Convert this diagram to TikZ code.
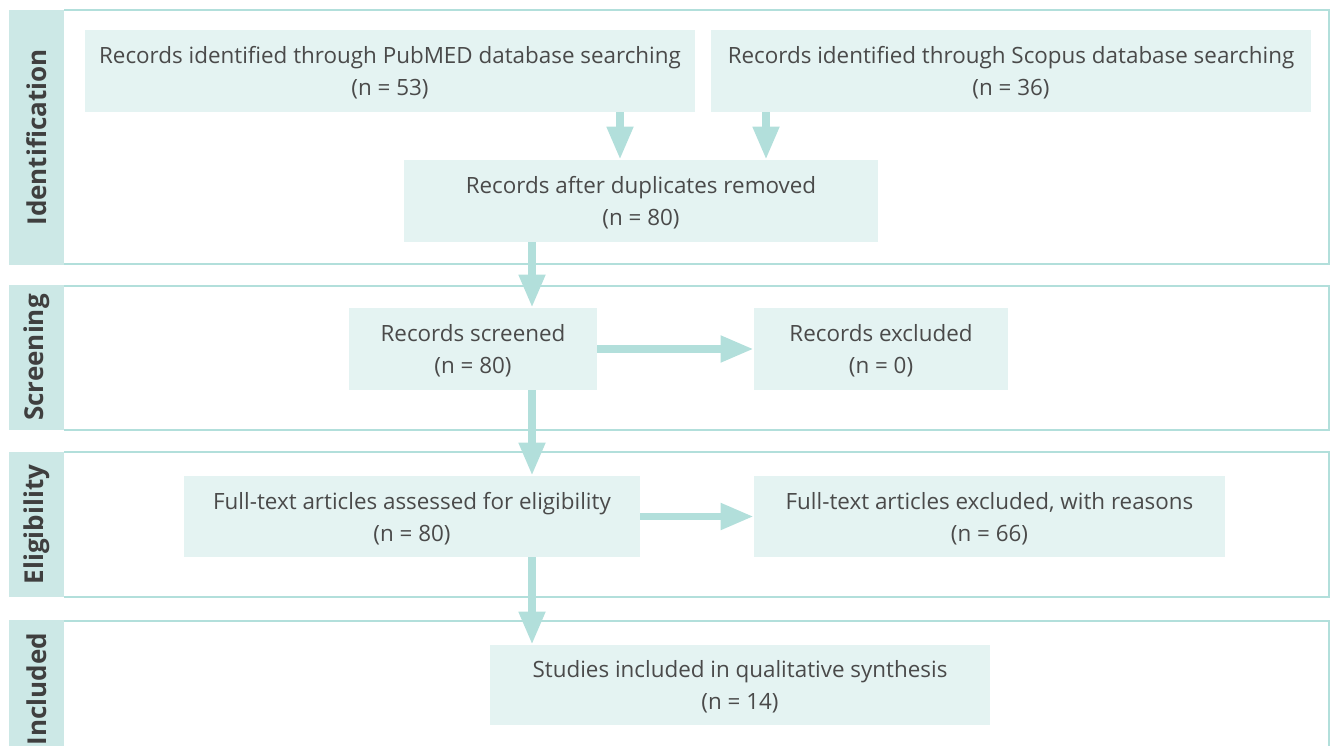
\documentclass[tikz,border=0pt]{standalone}
\usepackage{fontspec}
\setmainfont{Open Sans}
\usetikzlibrary{arrows.meta, positioning}
\definecolor{tealline}{HTML}{B2DFDB}
\definecolor{stripfill}{HTML}{CCE8E6}
\definecolor{boxfill}{HTML}{E4F3F2}
\definecolor{textgray}{HTML}{4A4A4A}

\begin{document}
\begin{tikzpicture}[x=0.02cm, y=-0.02cm,
    box/.style={rectangle, fill=boxfill, text=textgray, align=center, inner sep=0pt,
                font=\fontsize{12.75}{18.2}\selectfont, text depth=-3.8pt},
    phase/.style={rectangle, fill=stripfill, text=textgray!85!black, rotate=90, inner sep=0pt,
                  minimum height=1.1cm, font=\bfseries\fontsize{14.8}{16}\selectfont},
    frame/.style={draw=tealline, line width=1.3pt},
    arrow/.style={draw=tealline, line width=4.4pt, -{Triangle[width=14.2pt, length=18.8pt]}}]

    \useasboundingbox (0,0) rectangle (1331,746);

    % Phase bands
    \draw[frame] (64,10) -- (1329,10) -- (1329,264) -- (64,264);
    \draw[frame] (64,286) -- (1329,286) -- (1329,430) -- (64,430);
    \draw[frame] (64,452) -- (1329,452) -- (1329,597) -- (64,597);
    \draw[frame] (64,621) -- (1329,621) -- (1329,760);
    \node[phase, minimum width=5.1cm] (ident) at (36.5,137.5) {Identification};
    \node[phase, minimum width=2.9cm] (screen) at (36.5,357.5) {Screening};
    \node[phase, minimum width=2.9cm] (elig) at (36.5,524.5) {Eligibility};
    \node[phase, minimum width=2.76cm] (incl) at (36.5,689) {Included};

    % Nodes
    \node[box, minimum width=12.2cm, minimum height=1.64cm] (pubmed) at (390,71)
        {Records identified through PubMED database searching\\(n = 53)};
    \node[box, minimum width=12cm, minimum height=1.64cm] (scopus) at (1011,71)
        {Records identified through Scopus database searching\\(n = 36)};
    \node[box, minimum width=9.48cm, minimum height=1.64cm] (nodup) at (641,201)
        {Records after duplicates removed\\(n = 80)};
    \node[box, minimum width=4.96cm, minimum height=1.64cm] (screened) at (473,349)
        {Records screened\\(n = 80)};
    \node[box, minimum width=5.08cm, minimum height=1.64cm] (excluded) at (881,349)
        {Records excluded\\(n = 0)};
    \node[box, minimum width=9.12cm, minimum height=1.62cm] (fulltext) at (412,516.5)
        {Full-text articles assessed for eligibility\\(n = 80)};
    \node[box, minimum width=9.42cm, minimum height=1.62cm] (ftexcl) at (989.5,516.5)
        {Full-text articles excluded, with reasons\\(n = 66)};
    \node[box, minimum width=10cm, minimum height=1.6cm] (studies) at (740,685)
        {Studies included in qualitative synthesis\\(n = 14)};

    \coordinate (pmx) at (620,0);
    \coordinate (scx) at (766,0);
    \coordinate (midx) at (532,0);

    % Arrows
    \draw[arrow] (pubmed.south -| pmx) -- (nodup.north -| pmx);
    \draw[arrow] (scopus.south -| scx) -- (nodup.north -| scx);
    \draw[arrow] (nodup.south -| midx) -- (screened.north -| midx);
    \draw[arrow] (screened) -- (excluded);
    \draw[arrow] (screened.south -| midx) -- (fulltext.north -| midx);
    \draw[arrow] (fulltext) -- (ftexcl);
    \draw[arrow] (fulltext.south -| midx) -- (studies.north -| midx);

\end{tikzpicture}
\end{document}
